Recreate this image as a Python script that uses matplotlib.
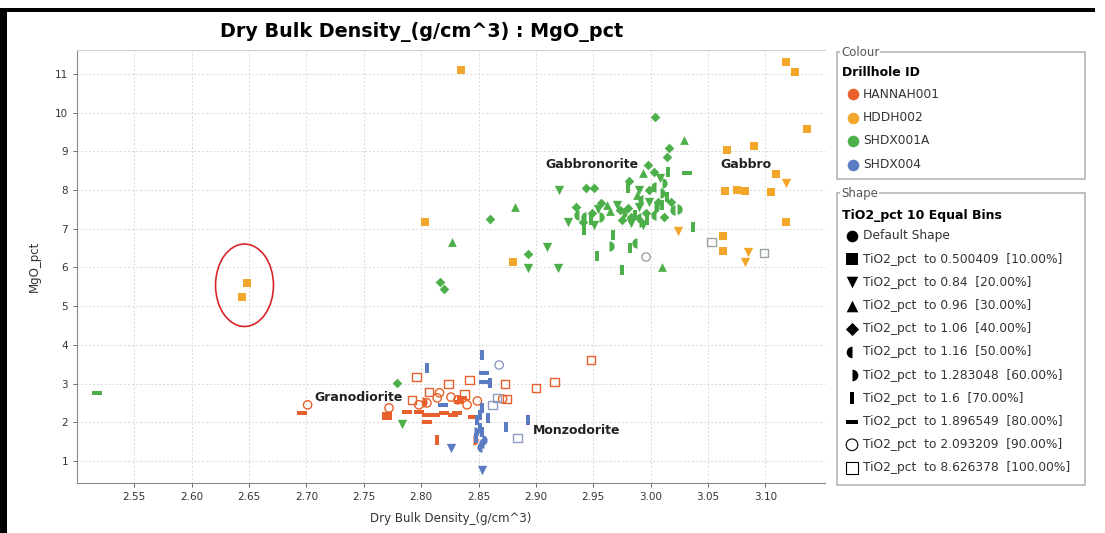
import matplotlib
matplotlib.use("Agg")
import matplotlib.pyplot as plt
from matplotlib.markers import MarkerStyle
from matplotlib.patches import Ellipse, Rectangle
from matplotlib.ticker import FormatStrFormatter

# colour legend: drillholes
drillholes = ["HANNAH001", "HDDH002", "SHDX001A", "SHDX004"]
hole_colours = ["#E8602C", "#F2A62B", "#4DAF4A", "#5B7CC2"]
hollow_colours = ["#E8602C", "#F2A62B", "#9AA49A", "#8E9CC4"]

# shape legend: TiO2 bins (0 = default shape)
bin_labels = [
    "Default Shape",
    "TiO2_pct  to 0.500409  [10.00%]",
    "TiO2_pct  to 0.84  [20.00%]",
    "TiO2_pct  to 0.96  [30.00%]",
    "TiO2_pct  to 1.06  [40.00%]",
    "TiO2_pct  to 1.16  [50.00%]",
    "TiO2_pct  to 1.283048  [60.00%]",
    "TiO2_pct  to 1.6  [70.00%]",
    "TiO2_pct  to 1.896549  [80.00%]",
    "TiO2_pct  to 2.093209  [90.00%]",
    "TiO2_pct  to 8.626378  [100.00%]",
]

# HANNAH001
hannah_density = [2.696, 2.701, 2.796, 2.824, 2.842, 2.873, 2.900, 2.916, 2.948, 2.807,
                  2.792, 2.838, 2.875, 2.816, 2.805, 2.814, 2.826, 2.832, 2.840, 2.849,
                  2.871, 2.772, 2.798, 2.770, 2.770, 2.788, 2.798, 2.805, 2.812, 2.820,
                  2.831, 2.836, 2.833, 2.805, 2.845, 2.801, 2.814, 2.845, 2.828]
hannah_mgo = [2.24, 2.45, 3.17, 2.99, 3.09, 2.99, 2.89, 3.04, 3.61, 2.78,
              2.58, 2.71, 2.60, 2.76, 2.50, 2.63, 2.65, 2.58, 2.45, 2.55,
              2.60, 2.37, 2.45, 2.21, 2.11, 2.27, 2.27, 2.19, 2.19, 2.24,
              2.24, 2.63, 2.52, 2.00, 2.14, 2.52, 1.54, 1.54, 2.20]
hannah_bin = [8, 9, 10, 10, 10, 10, 10, 10, 10, 10,
              10, 10, 10, 9, 9, 9, 9, 9, 9, 9,
              9, 9, 9, 8, 8, 8, 8, 8, 8, 8,
              8, 8, 8, 8, 8, 6, 7, 6, 8]

# HDDH002
hddh_density = [2.835, 2.648, 2.644, 2.803, 2.880, 3.118, 3.126, 3.136, 3.067, 3.090,
                3.109, 3.065, 3.075, 3.082, 3.105, 3.118, 3.063, 3.063, 3.118, 3.085,
                3.082, 3.024]
hddh_mgo = [11.10, 5.60, 5.24, 7.18, 6.14, 11.31, 11.05, 9.58, 9.04, 9.14,
            8.42, 7.98, 8.00, 7.98, 7.95, 7.18, 6.81, 6.43, 8.18, 6.40,
            6.14, 6.94]
hddh_bin = [1, 1, 1, 1, 1, 1, 1, 1, 1, 1,
            1, 1, 1, 1, 1, 1, 1, 1, 2, 2,
            2, 2]

# SHDX001A
shdx1_density = [2.517, 2.779, 2.783, 2.816, 2.820, 2.827, 2.860, 2.882, 2.893, 2.893,
                 2.910, 2.919, 2.920, 2.944, 2.951, 2.928, 2.967, 2.964, 2.953, 2.975,
                 2.982, 2.988, 3.010, 3.037, 3.004, 3.029, 3.016, 3.014, 3.032, 2.998,
                 2.993, 3.003, 3.015, 3.008, 3.010, 2.981, 3.005, 2.980, 2.990, 2.999,
                 3.008, 3.014, 2.988, 2.993, 2.999, 3.006, 3.010, 3.003, 3.021, 2.990,
                 2.996, 2.986, 2.980, 3.005, 3.012, 2.990, 2.997, 2.993, 2.983, 2.975,
                 2.971, 2.973, 2.962, 2.957, 2.954, 2.949, 2.955, 2.948, 2.944, 2.941,
                 2.938, 2.951, 2.942, 2.975, 2.983, 2.992, 3.023, 3.018, 2.965, 2.935,
                 2.996, 3.053, 3.099]
shdx1_mgo = [2.76, 3.02, 1.96, 5.63, 5.44, 6.66, 7.25, 7.56, 6.35, 5.99,
             6.53, 5.99, 8.00, 8.05, 8.05, 7.18, 6.84, 6.56, 6.30, 5.94,
             6.50, 6.63, 6.01, 7.05, 9.89, 9.29, 9.09, 8.86, 8.44, 8.65,
             8.44, 8.47, 8.47, 8.31, 8.18, 8.23, 8.08, 8.05, 8.00, 8.00,
             7.92, 7.82, 7.87, 7.74, 7.69, 7.69, 7.61, 7.54, 7.49, 7.56,
             7.41, 7.36, 7.54, 7.36, 7.31, 7.18, 7.23, 7.10, 7.31, 7.41,
             7.61, 7.49, 7.61, 7.67, 7.51, 7.41, 7.31, 7.23, 7.31, 7.18,
             7.36, 7.10, 6.97, 7.23, 7.15, 7.28, 7.51, 7.70, 7.45, 7.55,
             6.27, 6.66, 6.37]
shdx1_bin = [8, 4, 2, 4, 4, 3, 4, 3, 4, 2,
             2, 2, 2, 4, 4, 2, 7, 6, 7, 7,
             7, 5, 3, 7, 4, 3, 4, 4, 8, 4,
             3, 4, 7, 2, 6, 4, 5, 7, 2, 4,
             6, 7, 3, 5, 2, 4, 7, 6, 5, 2,
             4, 7, 4, 5, 4, 6, 7, 2, 4, 6,
             2, 4, 3, 4, 2, 4, 6, 7, 5, 4,
             5, 2, 7, 4, 2, 5, 6, 4, 3, 4,
             9, 10, 10]

# SHDX004
shdx4_density = [2.805, 2.853, 2.868, 2.855, 2.855, 2.860, 2.866, 2.862, 2.853, 2.851,
                 2.858, 2.849, 2.851, 2.846, 2.853, 2.848, 2.853, 2.855, 2.853, 2.819,
                 2.874, 2.893, 2.884, 2.826, 2.853]
shdx4_mgo = [3.40, 3.74, 3.48, 3.27, 3.04, 3.01, 2.63, 2.45, 2.37, 2.19,
             2.11, 2.06, 1.85, 1.75, 1.75, 1.59, 1.54, 1.46, 1.36, 2.45,
             1.88, 2.06, 1.59, 1.33, 0.77]
shdx4_bin = [7, 7, 9, 8, 8, 7, 10, 10, 7, 7,
             7, 7, 7, 6, 7, 7, 6, 5, 5, 8,
             7, 7, 10, 2, 2]

# rock type annotations
rock_names = ["Granodiorite", "Monzodorite", "Gabbronorite", "Gabbro"]
rock_x = [2.707, 2.897, 2.908, 3.061]
rock_y = [2.63, 1.78, 8.65, 8.65]

# marker per TiO2 bin
vbar = [(-0.38, -1), (0.38, -1), (0.38, 1), (-0.38, 1), (-0.38, -1)]
hbar = [(-1, -0.3), (1, -0.3), (1, 0.3), (-1, 0.3), (-1, -0.3)]
bin_markers = ["o", "s", "v", "^", "D",
               MarkerStyle("o", fillstyle="left"), MarkerStyle("o", fillstyle="right"),
               vbar, hbar, "o", "s"]
bin_sizes = [40, 40, 45, 40, 24, 55, 55, 55, 60, 36, 38]
hollow_bins = [9, 10]

fig = plt.figure(figsize=(11.05, 5.33), dpi=100)
ax = fig.add_axes([77 / 1105, 1 - 483 / 533, (825 - 77) / 1105, (483 - 50) / 533])

series = [
    (hddh_density, hddh_mgo, hddh_bin, 1),
    (shdx1_density, shdx1_mgo, shdx1_bin, 2),
    (hannah_density, hannah_mgo, hannah_bin, 0),
    (shdx4_density, shdx4_mgo, shdx4_bin, 3),
]
for xs, ys, bins, h in series:
    for b in range(len(bin_markers)):
        px = [x for x, k in zip(xs, bins) if k == b]
        py = [y for y, k in zip(ys, bins) if k == b]
        if not px:
            continue
        if b in hollow_bins:
            ax.scatter(px, py, marker=bin_markers[b], s=bin_sizes[b], facecolors="none",
                       edgecolors=hollow_colours[h], linewidths=1.0, zorder=3)
        else:
            ax.scatter(px, py, marker=bin_markers[b], s=bin_sizes[b], color=hole_colours[h],
                       linewidths=0, zorder=3)

# red ring around the two low-density HDDH002 samples
cx = (hddh_density[1] + hddh_density[2]) / 2
cy = (hddh_mgo[1] + hddh_mgo[2]) / 2
ax.add_patch(Ellipse((cx, cy + 0.12), 0.0505, 2.13, fill=False, edgecolor="#D9262B",
                     linewidth=1.2, zorder=4))

for name, x, y in zip(rock_names, rock_x, rock_y):
    ax.text(x, y, name, fontsize=9, fontweight="bold", color="#222222",
            va="center", ha="left", zorder=5)

ax.set_xlim(2.50, 3.152)
ax.set_ylim(0.43, 11.62)
ax.set_xticks([2.55 + 0.05 * i for i in range(12)])
ax.set_yticks(range(1, 12))
ax.xaxis.set_major_formatter(FormatStrFormatter("%.2f"))
ax.tick_params(labelsize=7.5, colors="#555555", length=3, width=0.6, labelcolor="#333333")
ax.grid(True, color="#d9d9d9", linestyle=(0, (2, 2)), linewidth=0.7)
ax.set_axisbelow(True)
ax.spines["right"].set_visible(False)
ax.spines["top"].set_color("#d0d0d0")
ax.spines["left"].set_color("#8a8a8a")
ax.spines["bottom"].set_color("#8a8a8a")
ax.set_xlabel("Dry Bulk Density_(g/cm^3)", fontsize=8.5, color="#333333", labelpad=7)
ax.set_ylabel("MgO_pct", fontsize=8.5, color="#333333", labelpad=10)

fig.text(422 / 1105, 1 - 32 / 533, "Dry Bulk Density_(g/cm^3) : MgO_pct",
         fontsize=13.8, fontweight="bold", ha="center", va="center")

# overlay in pixel coordinates for frame and legend panels
ov = fig.add_axes([0, 0, 1, 1])
ov.set_xlim(0, 1105)
ov.set_ylim(533, 0)
ov.axis("off")
ov.add_patch(Rectangle((0, 8), 7, 525, color="black", lw=0))
ov.add_patch(Rectangle((0, 8), 1095, 3.5, color="black", lw=0))

# colour panel
ov.add_patch(Rectangle((837, 52), 248, 127, fill=False, edgecolor="#b5b5b5", lw=1.2))
ov.text(841, 52, "Colour", fontsize=8.5, color="#555555", va="center", ha="left",
        bbox=dict(facecolor="white", edgecolor="none", pad=0.5))
ov.text(842, 73, "Drillhole ID", fontsize=9, fontweight="bold", va="center", ha="left")
for i, (name, col) in enumerate(zip(drillholes, hole_colours)):
    y = 94 + i * 23.5
    ov.scatter([853], [y], s=70, color=col, linewidths=0)
    ov.text(863, y, name, fontsize=8.8, color="#333333", va="center", ha="left")

# shape panel
ov.add_patch(Rectangle((837, 193), 248, 292, fill=False, edgecolor="#b5b5b5", lw=1.2))
ov.text(841, 193, "Shape", fontsize=8.5, color="#555555", va="center", ha="left",
        bbox=dict(facecolor="white", edgecolor="none", pad=0.5))
ov.text(842, 215, "TiO2_pct 10 Equal Bins", fontsize=9, fontweight="bold",
        va="center", ha="left")
for b, label in enumerate(bin_labels):
    y = 236 + b * 23.2
    if b in hollow_bins:
        ov.scatter([852], [y], marker=bin_markers[b], s=70, facecolors="none",
                   edgecolors="black", linewidths=0.8)
    else:
        ov.scatter([852], [y], marker=bin_markers[b], s=70 if b != 4 else 45,
                   color="black", linewidths=0)
    ov.text(863, y, label, fontsize=8.8, color="#333333", va="center", ha="left")

fig.savefig("out.png", dpi=100)
